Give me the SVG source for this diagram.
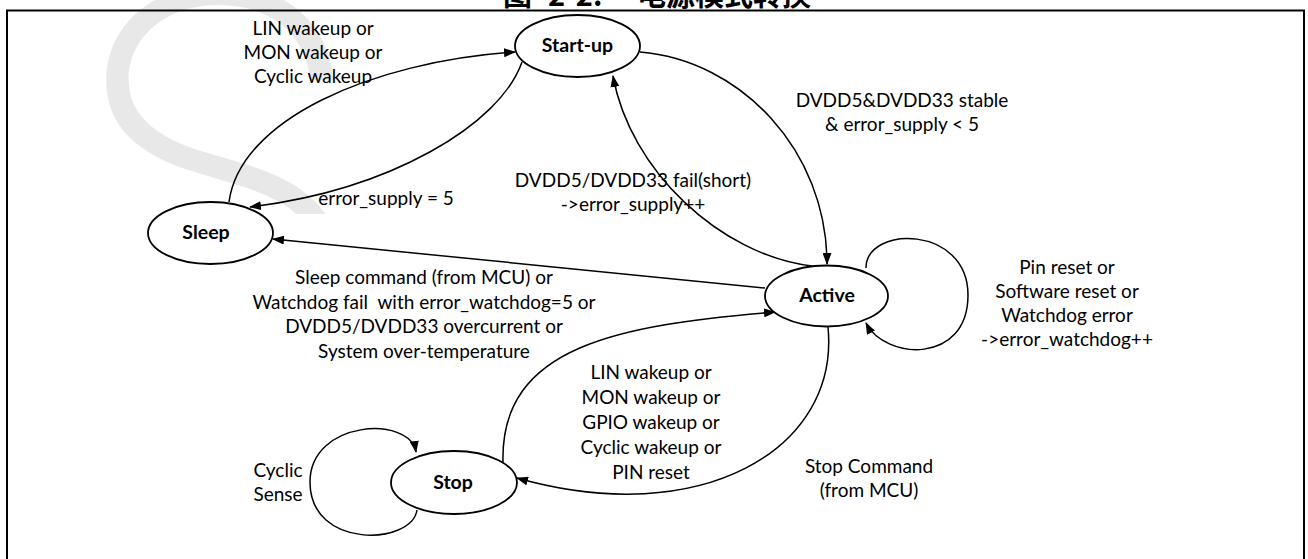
<svg xmlns="http://www.w3.org/2000/svg" width="1308" height="559" viewBox="0 0 1308 559">
<style>
.frame{fill:none;stroke:#000;stroke-width:2}
.node ellipse{fill:#fff;stroke:#000;stroke-width:1.8}
.nl{font-family:Lato,"Liberation Sans",sans-serif;font-weight:bold;font-size:19.5px;text-anchor:middle;fill:#000}
.lbl{font-family:Lato,"Liberation Sans",sans-serif;font-size:19px;text-anchor:middle;fill:#000}
.edge{fill:none;stroke:#000;stroke-width:1.5;marker-end:url(#arr)}
</style>
<defs>
<marker id="arr" viewBox="0 0 12 9" refX="11" refY="4.5" markerWidth="12" markerHeight="9" markerUnits="userSpaceOnUse" orient="auto"><path d="M0,0 L12,4.5 L0,9 z" fill="#000"/></marker>
<clipPath id="wmclip"><rect x="0" y="0" width="410" height="214"/></clipPath>
</defs>
<rect x="0" y="0" width="1308" height="559" fill="#fff"/>
<g id="watermark" clip-path="url(#wmclip)"><text x="62" y="353" font-family="Inter,'Open Sans',sans-serif" font-weight="200" font-size="500" fill="#e8e8e8">S</text></g>
<text id="title" y="6" font-family="'Noto Sans CJK SC',sans-serif" font-weight="bold" font-size="29" fill="#000"><tspan x="503">图 </tspan><tspan x="548">2-2: </tspan><tspan x="637">电源模式转换</tspan></text>
<rect class="frame" x="7" y="10.5" width="1297" height="560"/>
<g id="connectors">
<path class="edge" d="M229,202 C240,120 370,62 515,52"/>
<path class="edge" d="M522,62 C500,125 390,190 250,207"/>
<path class="edge" d="M640,52 C740,60 827,150 827,264"/>
<path class="edge" d="M812,266 C720,255 630,170 613,76"/>
<path class="edge" d="M765,288 L273,239"/>
<path class="edge" d="M503,462 C500,345 620,325 775,312"/>
<path class="edge" d="M828,327 C840,450 700,530 517,478"/>
<path class="edge" d="M866,268 C866,225 968,225 968,295 C968,365 885,360 866,323"/>
<path class="edge" d="M417,510 C412,545 310,550 310,482 C310,420 410,415 416,452"/>
</g>
<g id="labels">
<text class="lbl"><tspan x="313" y="35">LIN wakeup or</tspan><tspan x="313" y="59">MON wakeup or</tspan><tspan x="313" y="83">Cyclic wakeup</tspan></text>
<text class="lbl" x="386" y="205">error_supply = 5</text>
<text class="lbl"><tspan x="633" y="187">DVDD5/DVDD33 fail(short)</tspan><tspan x="633" y="211">-&gt;error_supply++</tspan></text>
<text class="lbl"><tspan x="902" y="107">DVDD5&amp;DVDD33 stable</tspan><tspan x="902" y="131">&amp; error_supply &lt; 5</tspan></text>
<text class="lbl" xml:space="preserve"><tspan x="424" y="284">Sleep command (from MCU) or</tspan><tspan x="424" y="309">Watchdog fail  with error_watchdog=5 or</tspan><tspan x="424" y="333">DVDD5/DVDD33 overcurrent or</tspan><tspan x="424" y="358">System over-temperature</tspan></text>
<text class="lbl"><tspan x="651" y="379">LIN wakeup or</tspan><tspan x="651" y="404">MON wakeup or</tspan><tspan x="651" y="429">GPIO wakeup or</tspan><tspan x="651" y="454">Cyclic wakeup or</tspan><tspan x="651" y="479">PIN reset</tspan></text>
<text class="lbl"><tspan x="1067" y="274">Pin reset or</tspan><tspan x="1067" y="298">Software reset or</tspan><tspan x="1067" y="322">Watchdog error</tspan><tspan x="1067" y="346">-&gt;error_watchdog++</tspan></text>
<text class="lbl"><tspan x="869" y="473">Stop Command</tspan><tspan x="869" y="497">(from MCU)</tspan></text>
<text class="lbl"><tspan x="278" y="477">Cyclic</tspan><tspan x="278" y="501">Sense</tspan></text>
</g>
<g id="node-startup" class="node"><ellipse cx="577.5" cy="46" rx="62.5" ry="31"/><text class="nl" x="577.5" y="52">Start-up</text></g>
<g id="node-sleep" class="node"><ellipse cx="210.5" cy="233" rx="62.5" ry="31"/><text class="nl" x="206" y="239">Sleep</text></g>
<g id="node-active" class="node"><ellipse cx="826.5" cy="296" rx="61.5" ry="30.5"/><text class="nl" x="827" y="302">Active</text></g>
<g id="node-stop" class="node"><ellipse cx="454" cy="482.5" rx="63" ry="31.5"/><text class="nl" x="453" y="489">Stop</text></g>
</svg>
